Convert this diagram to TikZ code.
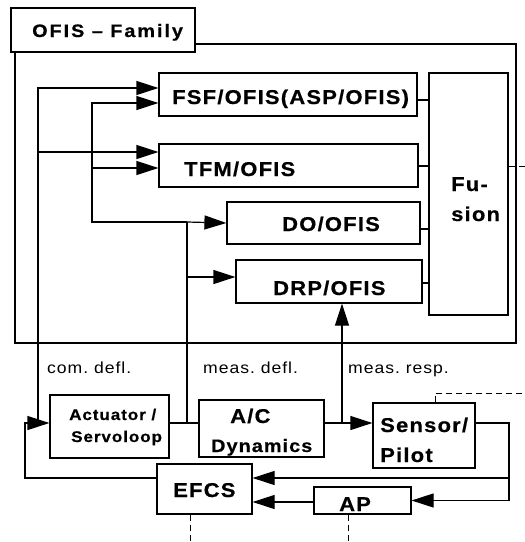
\documentclass[tikz,border=0pt]{standalone}
\usepackage{fontspec}
\setmainfont{Liberation Sans}
\newfontfamily\hb[FakeStretch=1.1,LetterSpace=6,BoldFeatures={FakeBold=0.5}]{Liberation Sans}
\newfontfamily\hbw[FakeStretch=1.1,LetterSpace=11,BoldFeatures={FakeBold=0.5}]{Liberation Sans}
\usetikzlibrary{arrows.meta,fit}
\tikzset{
  ln/.style={line width=1.2pt},
  box/.style={draw,line width=1.2pt,inner sep=0pt,fill=white},
  arr/.style={line width=1.2pt,-{Triangle[length=22pt,width=14pt]}},
  dsh/.style={line width=1pt,dash pattern=on 6pt off 4pt},
  tb/.style={anchor=base west,inner sep=0pt,font=\hb\bfseries\fontsize{20}{24}\selectfont},
  tm/.style={anchor=base west,inner sep=0pt,font=\hb\bfseries\fontsize{18}{22}\selectfont},
  ts/.style={anchor=base west,inner sep=0pt,font=\hb\bfseries\fontsize{15.5}{18}\selectfont},
  tr/.style={anchor=base west,inner sep=0pt,font=\hb\fontsize{16}{19}\selectfont},
}
\begin{document}
\begin{tikzpicture}[x=1pt,y=-1pt]
\useasboundingbox (0,0) rectangle (525,542);
% outer frame and family title
\node[draw,line width=1.2pt,inner sep=0pt,fit={(15,44) (516,343)}] (frame) {};
\node[box,fit={(11,8) (195,52)}] (fam) {};
\node[anchor=base west,inner sep=0pt,font=\hbw\bfseries\fontsize{18}{22}\selectfont] (famt) at (32,37) {OFIS – Family};
% OFIS boxes
\node[box,fit={(159,73) (417,116)}] (fsf) {};
\node[box,fit={(159,144) (418,187)}] (tfm) {};
\node[box,fit={(227,202) (420,244)}] (do) {};
\node[box,fit={(236,260) (422,303)}] (drp) {};
\node[box,fit={(429,73) (508,315)}] (fus) {};
\node[tb] (fsft) at (172,104) {FSF/OFIS(ASP/OFIS)};
\node[tb] (tfmt) at (184,176) {TFM/OFIS};
\node[tb] (dot) at (282,231) {DO/OFIS};
\node[tb] (drpt) at (273,295) {DRP/OFIS};
\node[tb] (fust1) at (451,191) {Fu-};
\node[tb] (fust2) at (451,221) {sion};
% lower blocks
\node[box,fit={(50,395) (169,458)}] (act) {};
\node[box,fit={(199,400) (324,457)}] (ac) {};
\node[box,fit={(373,403) (475,468)}] (sen) {};
\node[box,fit={(157,464) (252,514)}] (efcs) {};
\node[box,fit={(314,487) (411,514)}] (ap) {};
\node[ts] (actt1) at (69,420) {Actuator /};
\node[ts] (actt2) at (71,442) {Servoloop};
\node[tb] (act1) at (230,423) {A/C};
\node[tm] (act2) at (211,452) {Dynamics};
\node[tb] (sent1) at (380,432) {Sensor/};
\node[tb] (sent2) at (380,462) {Pilot};
\node[tb] (efcst) at (173,497) {EFCS};
\node[tb] (apt) at (339,511) {AP};
% signal labels
\node[tr] (l1) at (47,373) {com.\ defl.};
\node[tr] (l2) at (203,373) {meas.\ defl.};
\node[tr] (l3) at (348,373) {meas.\ resp.};
% junctions
\coordinate (jA) at (38,423);
\coordinate (jM) at (187,222);
\coordinate (kM) at (92,222);
\coordinate (jAC) at (187,423);
\coordinate (jS) at (342,423);
\coordinate (jR) at (509,423);
\coordinate (xl) at (25,478);
\coordinate (fin1) at ([yshift=6.5pt]fsf.west);
\coordinate (fin2) at ([yshift=-8.5pt]fsf.west);
\coordinate (tin1) at ([yshift=13.5pt]tfm.west);
\coordinate (tin2) at ([yshift=-2.5pt]tfm.west);
\coordinate (drpin) at ([yshift=4.5pt]drp.west);
\coordinate (efin1) at ([yshift=11pt]efcs.east);
\coordinate (efin2) at ([yshift=-13pt]efcs.east);
\coordinate (efout) at ([yshift=11pt]efcs.west);
% commanded deflection
\draw[arr] (jA) |- (fin1);
\draw[arr] (jA) |- (tin1);
% measured deflection
\draw[ln] (jAC) -- (jM);
\draw[arr] (jM) -- (do.west);
\draw[arr] (jM) -- (kM) |- (fin2);
\draw[arr] (kM) |- (tin2);
\draw[arr] (drpin -| jM) -- (drpin);
% measured response
\draw[arr] (jS) -- (jS |- drp.south);
% to fusion
\coordinate (s1) at ([yshift=-5.5pt]fsf.east);
\coordinate (s2) at ([yshift=-0.5pt]tfm.east);
\coordinate (s3) at ([yshift=-6pt]do.east);
\coordinate (s4) at ([yshift=-1.5pt]drp.east);
\draw[ln] (s1) -- (s1 -| fus.west);
\draw[ln] (s2) -- (s2 -| fus.west);
\draw[ln] (s3) -- (s3 -| fus.west);
\draw[ln] (s4) -- (s4 -| fus.west);
% loop
\draw[ln] (act.east |- jA) -- (ac.west |- jA);
\draw[arr] (ac.east |- jA) -- (sen.west |- jA);
\draw[ln] (sen.east |- jA) -- (jR) -- (jR |- ap.east);
\draw[arr] (efin1 -| jR) -- (efin1);
\draw[arr] (jR |- ap.east) -- (ap.east);
\draw[arr] (ap.west |- efin2) -- (efin2);
\draw[arr] (efout) -- (xl) |- (act.west |- jA);
% dashed outputs
\coordinate (dR1) at (525,166);
\coordinate (dR2) at (525,393);
\coordinate (dB1) at (190,542);
\coordinate (dB2) at (348,542);
\draw[dsh] (dR1 -| fus.east) -- (dR1);
\draw[dsh] ([xshift=11pt]sen.north) |- (dR2);
\draw[dsh] (dB1 |- efcs.south) -- (dB1);
\draw[dsh] (dB2 |- ap.south) -- (dB2);
\end{tikzpicture}
\end{document}
